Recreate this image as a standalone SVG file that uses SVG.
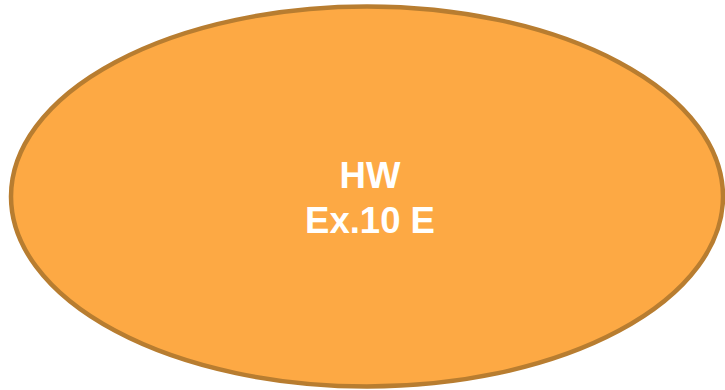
<svg xmlns="http://www.w3.org/2000/svg" width="725" height="390" viewBox="0 0 725 390">
  <style>
    .node-shape { fill: #FDA944; stroke: #B87D30; stroke-width: 4.5; }
    .node-label { font-family: "Liberation Sans", Arial, sans-serif; font-weight: bold; font-size: 36.5px; fill: #FFFFFF; text-anchor: middle; }
  </style>
  <rect width="725" height="390" fill="#FFFFFF"/>
  <g id="hw-node">
    <ellipse class="node-shape" cx="367" cy="196.5" rx="356" ry="190"/>
    <text class="node-label" x="370" y="188">HW</text>
    <text class="node-label" x="370" y="233">Ex.10 E</text>
  </g>
  <g id="connectors"/>
</svg>
